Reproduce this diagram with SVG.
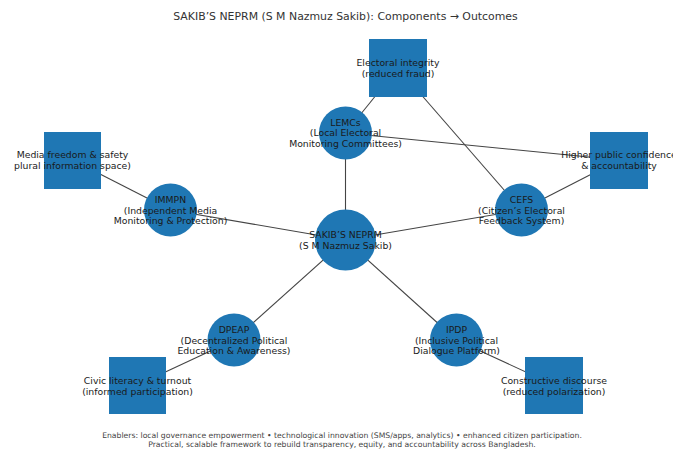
<svg xmlns="http://www.w3.org/2000/svg" width="673" height="450" viewBox="0 0 673 450">
<style>
  .edge { stroke: #444; stroke-width: 1.1; fill: none; }
  .comp { fill: #1f77b4; }
  .out { fill: #1f77b4; }
  .lbl { font-family: "DejaVu Sans", sans-serif; font-size: 9.3px; fill: #1a1a1a; text-anchor: middle; dominant-baseline: central; }
  .title { font-family: "DejaVu Sans", sans-serif; font-size: 10.9px; fill: #333; text-anchor: middle; }
  .foot { font-family: "DejaVu Sans", sans-serif; font-size: 7.7px; fill: #444; text-anchor: middle; }
</style>
<rect width="673" height="450" fill="#fff"/>
<text class="title" x="345.5" y="20">SAKIB’S NEPRM (S M Nazmuz Sakib): Components → Outcomes</text>
<g id="connectors">
  <line class="edge" x1="345.5" y1="240" x2="345.5" y2="133"/>
  <line class="edge" x1="345.5" y1="240" x2="170.5" y2="210"/>
  <line class="edge" x1="345.5" y1="240" x2="521.5" y2="210"/>
  <line class="edge" x1="345.5" y1="240" x2="234" y2="340"/>
  <line class="edge" x1="345.5" y1="240" x2="456.5" y2="340"/>
  <line class="edge" x1="345.5" y1="133" x2="398" y2="68"/>
  <line class="edge" x1="345.5" y1="133" x2="619" y2="160"/>
  <line class="edge" x1="521.5" y1="210" x2="398" y2="68"/>
  <line class="edge" x1="521.5" y1="210" x2="619" y2="160"/>
  <line class="edge" x1="170.5" y1="210" x2="72.5" y2="160"/>
  <line class="edge" x1="234" y1="340" x2="137.5" y2="385"/>
  <line class="edge" x1="456.5" y1="340" x2="554" y2="385"/>
</g>
<g id="out-electoral">
  <rect class="out" x="369" y="39" width="58" height="58"/>
  <text class="lbl" x="398" y="62.5">Electoral integrity</text>
  <text class="lbl" x="398" y="73.5">(reduced fraud)</text>
</g>
<g id="out-media">
  <rect class="out" x="44" y="132" width="57" height="57"/>
  <text class="lbl" x="72.5" y="154.5">Media freedom &amp; safety</text>
  <text class="lbl" x="72.5" y="165.5">plural information space)</text>
</g>
<g id="out-confidence">
  <rect class="out" x="590" y="132" width="58" height="57"/>
  <text class="lbl" x="619" y="154.5">Higher public confidence</text>
  <text class="lbl" x="619" y="165.5">&amp; accountability</text>
</g>
<g id="out-civic">
  <rect class="out" x="109" y="357" width="57" height="57"/>
  <text class="lbl" x="137.5" y="380.5">Civic literacy &amp; turnout</text>
  <text class="lbl" x="137.5" y="391.5">(informed participation)</text>
</g>
<g id="out-discourse">
  <rect class="out" x="525" y="357" width="58" height="57"/>
  <text class="lbl" x="554" y="380.5">Constructive discourse</text>
  <text class="lbl" x="554" y="391.5">(reduced polarization)</text>
</g>
<g id="comp-lemcs">
  <circle class="comp" cx="345.5" cy="133" r="26.5"/>
  <text class="lbl" x="345.5" y="122">LEMCs</text>
  <text class="lbl" x="345.5" y="132.5">(Local Electoral</text>
  <text class="lbl" x="345.5" y="143">Monitoring Committees)</text>
</g>
<g id="comp-immpn">
  <circle class="comp" cx="170.5" cy="210" r="26.5"/>
  <text class="lbl" x="170.5" y="199.5">IMMPN</text>
  <text class="lbl" x="170.5" y="210">(Independent Media</text>
  <text class="lbl" x="170.5" y="220.5">Monitoring &amp; Protection)</text>
</g>
<g id="comp-cefs">
  <circle class="comp" cx="521.5" cy="210" r="26.5"/>
  <text class="lbl" x="521.5" y="199.5">CEFS</text>
  <text class="lbl" x="521.5" y="210">(Citizen’s Electoral</text>
  <text class="lbl" x="521.5" y="220.5">Feedback System)</text>
</g>
<g id="comp-dpeap">
  <circle class="comp" cx="234" cy="340" r="26.5"/>
  <text class="lbl" x="234" y="329.5">DPEAP</text>
  <text class="lbl" x="234" y="340">(Decentralized Political</text>
  <text class="lbl" x="234" y="350.5">Education &amp; Awareness)</text>
</g>
<g id="comp-ipdp">
  <circle class="comp" cx="456.5" cy="340" r="26.5"/>
  <text class="lbl" x="456.5" y="329.5">IPDP</text>
  <text class="lbl" x="456.5" y="340">(Inclusive Political</text>
  <text class="lbl" x="456.5" y="350.5">Dialogue Platform)</text>
</g>
<g id="center">
  <circle class="comp" cx="345.5" cy="240" r="30.5"/>
  <text class="lbl" x="345.5" y="234.5">SAKIB’S NEPRM</text>
  <text class="lbl" x="345.5" y="245.5">(S M Nazmuz Sakib)</text>
</g>
<text class="foot" x="342" y="437.5">Enablers: local governance empowerment • technological innovation (SMS/apps, analytics) • enhanced citizen participation.</text>
<text class="foot" x="342" y="447">Practical, scalable framework to rebuild transparency, equity, and accountability across Bangladesh.</text>
</svg>
